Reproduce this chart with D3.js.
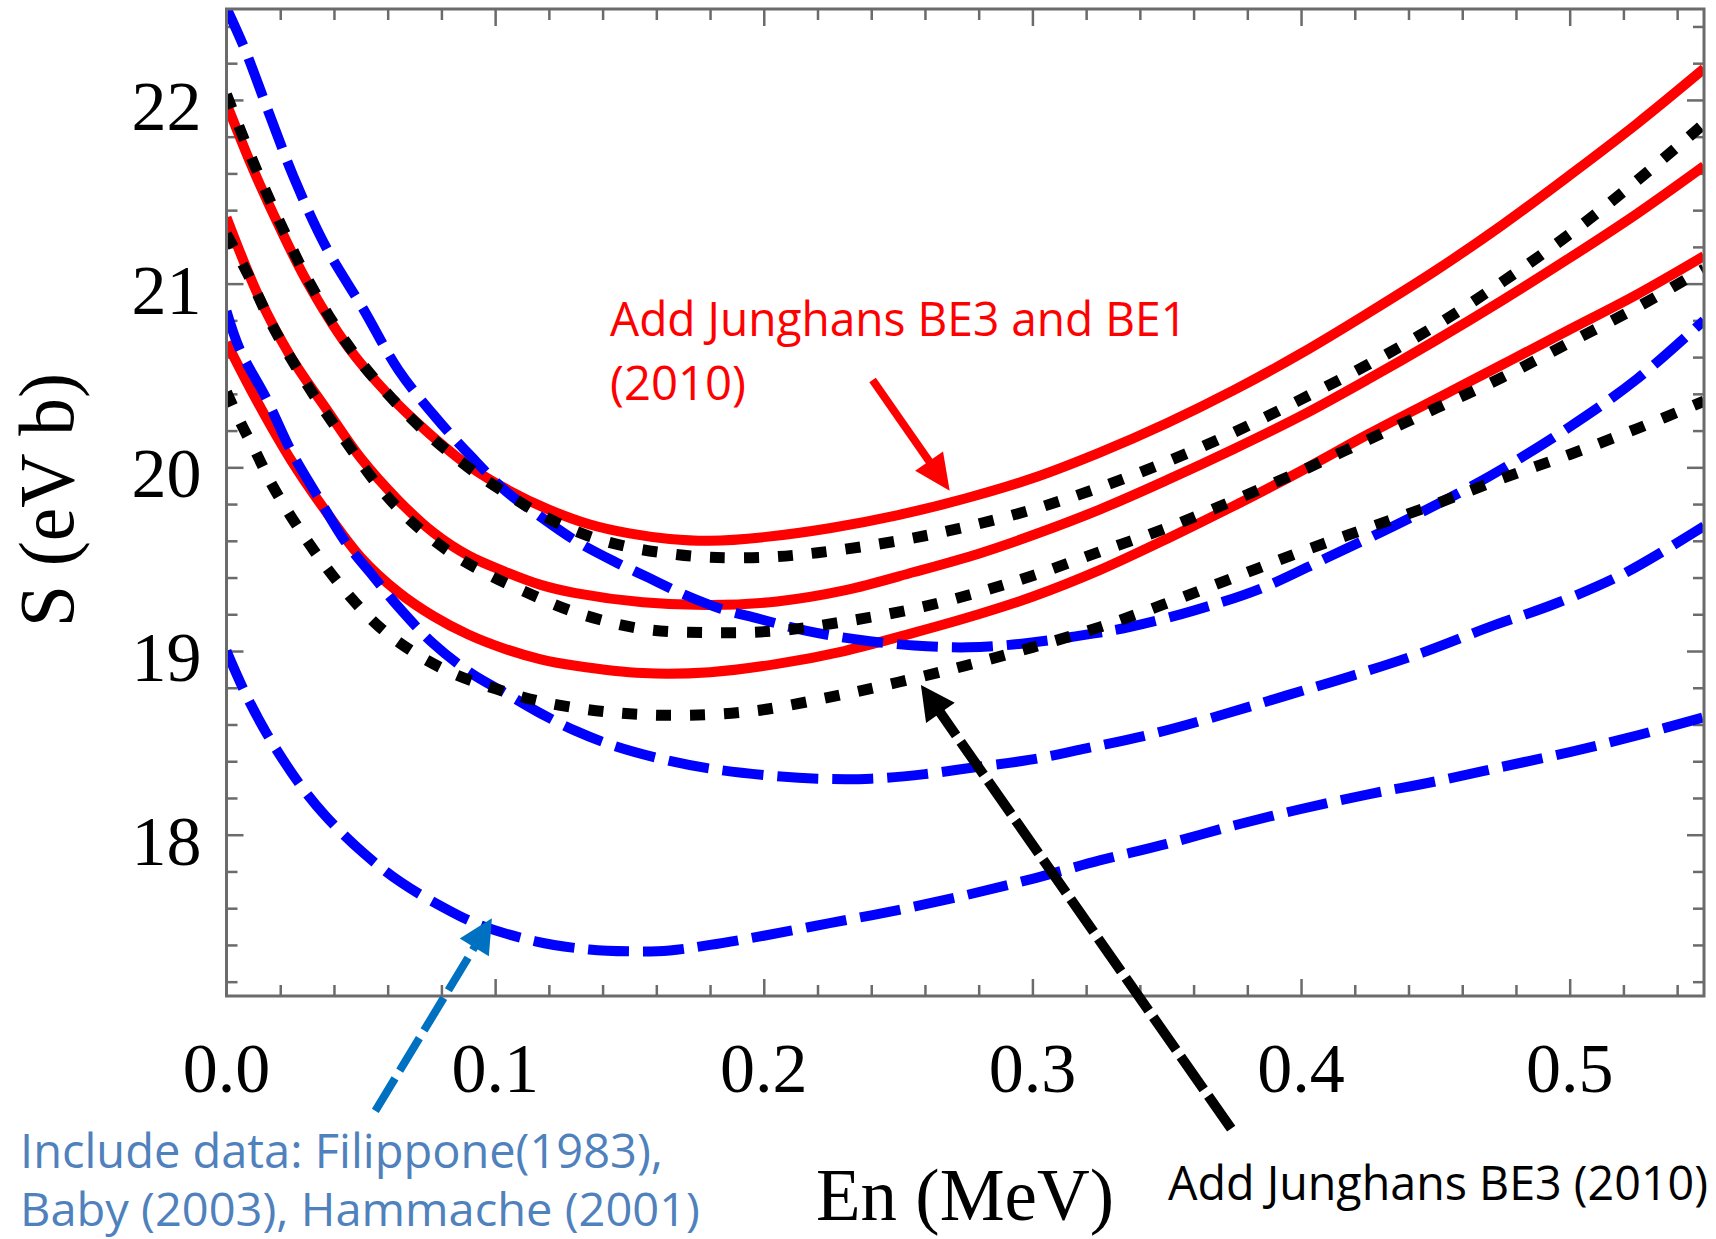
<!DOCTYPE html>
<html><head><meta charset="utf-8">
<script src="https://cdn.jsdelivr.net/npm/d3@7"></script>
<style>html,body{margin:0;padding:0;background:#fff;} svg{display:block;}</style>
</head><body>
<svg id="chart" width="1716" height="1239"></svg>
<script>
// ---------- data ----------
const xTickLabels = [0, 0.1, 0.2, 0.3, 0.4, 0.5];
const yTickLabels = [18, 19, 20, 21, 22];

// red solid curves (Add Junghans BE3 and BE1)
const redUpper = [[0,21.98],[0.01,21.62],[0.02,21.30],[0.03,21.01],[0.045,20.66],[0.06,20.40],[0.075,20.19],[0.09,20.01],[0.105,19.875],[0.12,19.77],[0.135,19.69],[0.15,19.64],[0.165,19.61],[0.18,19.60],[0.20,19.62],[0.225,19.67],[0.25,19.74],[0.275,19.83],[0.30,19.94],[0.325,20.08],[0.35,20.24],[0.375,20.42],[0.40,20.62],[0.425,20.84],[0.45,21.07],[0.475,21.32],[0.50,21.59],[0.525,21.87],[0.55,22.17]];
const redMiddle = [[0,21.36],[0.012,20.93],[0.024,20.6],[0.0375,20.31],[0.05,20.05],[0.064,19.82],[0.077,19.645],[0.09,19.52],[0.104,19.43],[0.117,19.36],[0.13,19.315],[0.155,19.265],[0.18,19.25],[0.205,19.27],[0.23,19.33],[0.256,19.43],[0.28,19.53],[0.30,19.63],[0.325,19.77],[0.35,19.93],[0.375,20.10],[0.40,20.28],[0.425,20.48],[0.45,20.69],[0.475,20.91],[0.50,21.14],[0.525,21.38],[0.55,21.64]];
const redLower = [[0,20.68],[0.011,20.37],[0.024,20.04],[0.0375,19.75],[0.05,19.51],[0.064,19.32],[0.077,19.19],[0.09,19.09],[0.104,19.01],[0.117,18.955],[0.13,18.92],[0.155,18.88],[0.18,18.885],[0.205,18.93],[0.23,19.0],[0.256,19.10],[0.28,19.20],[0.30,19.295],[0.325,19.44],[0.35,19.61],[0.375,19.79],[0.40,19.98],[0.425,20.18],[0.45,20.37],[0.475,20.56],[0.50,20.75],[0.525,20.94],[0.55,21.15]];

// black dotted curves (Add Junghans BE3)
const blackUpper = [[0,22.03],[0.01,21.66],[0.02,21.33],[0.03,21.03],[0.045,20.67],[0.06,20.40],[0.075,20.18],[0.09,20.0],[0.105,19.85],[0.12,19.72],[0.135,19.625],[0.15,19.565],[0.165,19.53],[0.18,19.51],[0.20,19.51],[0.22,19.535],[0.25,19.60],[0.275,19.675],[0.30,19.77],[0.325,19.89],[0.35,20.03],[0.375,20.19],[0.40,20.37],[0.425,20.56],[0.45,20.77],[0.475,21.01],[0.50,21.27],[0.525,21.56],[0.55,21.87]];
const blackMiddle = [[0,21.27],[0.008,21.05],[0.0175,20.76],[0.03,20.45],[0.044,20.15],[0.057,19.89],[0.07,19.69],[0.084,19.53],[0.097,19.42],[0.11,19.33],[0.13,19.21],[0.155,19.12],[0.18,19.10],[0.205,19.11],[0.23,19.16],[0.256,19.23],[0.28,19.32],[0.30,19.41],[0.325,19.54],[0.35,19.67],[0.375,19.82],[0.40,19.98],[0.425,20.15],[0.45,20.32],[0.475,20.49],[0.50,20.68],[0.525,20.87],[0.55,21.08]];
const blackLower = [[0,20.41],[0.005,20.25],[0.011,20.08],[0.0175,19.89],[0.03,19.60],[0.044,19.33],[0.057,19.13],[0.07,18.99],[0.084,18.88],[0.099,18.80],[0.117,18.725],[0.144,18.665],[0.17,18.65],[0.197,18.675],[0.225,18.75],[0.25,18.83],[0.275,18.92],[0.30,19.02],[0.325,19.13],[0.35,19.26],[0.375,19.40],[0.40,19.54],[0.425,19.67],[0.45,19.80],[0.475,19.94],[0.50,20.07],[0.525,20.21],[0.55,20.36]];

// blue dashed curves (Filippone, Baby, Hammache data)
const blueUpper = [[0,22.5],[0.007,22.27],[0.015,21.96],[0.025,21.58],[0.037,21.2],[0.051,20.86],[0.064,20.53],[0.078,20.27],[0.091,20.06],[0.104,19.87],[0.117,19.73],[0.13,19.60],[0.144,19.49],[0.157,19.40],[0.17,19.31],[0.184,19.23],[0.197,19.18],[0.216,19.11],[0.236,19.06],[0.256,19.03],[0.276,19.02],[0.296,19.04],[0.316,19.08],[0.336,19.13],[0.36,19.22],[0.385,19.34],[0.41,19.51],[0.44,19.72],[0.47,19.95],[0.50,20.22],[0.525,20.48],[0.55,20.80]];
const blueMiddle = [[0,20.85],[0.005,20.64],[0.015,20.37],[0.024,20.09],[0.034,19.84],[0.044,19.60],[0.055,19.40],[0.064,19.24],[0.077,19.04],[0.091,18.88],[0.104,18.77],[0.117,18.66],[0.13,18.565],[0.144,18.485],[0.164,18.405],[0.18,18.36],[0.20,18.325],[0.22,18.305],[0.24,18.305],[0.26,18.33],[0.28,18.37],[0.30,18.41],[0.32,18.47],[0.345,18.55],[0.37,18.65],[0.395,18.76],[0.42,18.87],[0.445,18.99],[0.47,19.13],[0.495,19.26],[0.52,19.42],[0.55,19.68]];
const blueLower = [[0,19.0],[0.007,18.77],[0.015,18.55],[0.027,18.28],[0.037,18.10],[0.051,17.90],[0.065,17.74],[0.08,17.61],[0.094,17.51],[0.115,17.42],[0.135,17.375],[0.15,17.365],[0.165,17.37],[0.18,17.40],[0.20,17.45],[0.225,17.52],[0.25,17.59],[0.275,17.67],[0.30,17.76],[0.325,17.86],[0.35,17.95],[0.375,18.05],[0.40,18.14],[0.425,18.22],[0.45,18.29],[0.475,18.37],[0.50,18.45],[0.525,18.54],[0.55,18.64]];

// annotation arrows, in data coordinates: [tailX, tailY, tipX, tipY]
const redArrow = [0.2405, 20.475, 0.2692, 19.873];
const blackArrow = [0.374, 16.40, 0.2585, 18.815];
const blueArrow = [0.0554, 16.497, 0.0988, 17.545];

// ---------- chart ----------
const W = 1716, H = 1239;
const margin = {left: 226.5, right: 12, top: 9, bottom: 243};
const svg = d3.select("#chart");
svg.append("rect").attr("width", W).attr("height", H).attr("fill", "#fff");

const x = d3.scaleLinear().domain([0, 0.55]).range([margin.left, W - margin.right]);
const y = d3.scaleLinear().domain([17.122, 22.495]).range([H - margin.bottom, margin.top]);

const axisColor = "#6b6b6b";
const serif = "'Liberation Serif', 'Times New Roman', serif";
const sans = "'Open Sans', 'Noto Sans', sans-serif";

// clip
svg.append("defs").append("clipPath").attr("id", "plotclip")
  .append("rect").attr("x", x(0)).attr("y", y(22.495))
  .attr("width", x(0.55) - x(0)).attr("height", y(17.122) - y(22.495));

// ticks
const yMinor = d3.range(17.2, 22.45, 0.2).filter(v => Math.abs(v - Math.round(v)) > 1e-6);
const xMinor = d3.range(0.02, 0.545, 0.02).filter(v => Math.abs(v * 10 - Math.round(v * 10)) > 1e-6);

function tickGroup(axisGen, transform, values, size) {
  svg.append("g").attr("transform", transform)
    .call(axisGen.tickValues(values).tickSize(size).tickFormat(""))
    .call(g => g.select(".domain").remove())
    .call(g => g.selectAll("line").attr("stroke", axisColor).attr("stroke-width", 2.5));
}
tickGroup(d3.axisLeft(y), `translate(${x(0)},0)`, yTickLabels, -17);
tickGroup(d3.axisLeft(y), `translate(${x(0)},0)`, yMinor, -11);
tickGroup(d3.axisRight(y), `translate(${x(0.55)},0)`, yTickLabels, -17);
tickGroup(d3.axisRight(y), `translate(${x(0.55)},0)`, yMinor, -11);
tickGroup(d3.axisBottom(x), `translate(0,${y(17.122)})`, xTickLabels.slice(1), -17);
tickGroup(d3.axisBottom(x), `translate(0,${y(17.122)})`, xMinor, -11);
tickGroup(d3.axisTop(x), `translate(0,${y(22.495)})`, xTickLabels.slice(1), -17);
tickGroup(d3.axisTop(x), `translate(0,${y(22.495)})`, xMinor, -11);

// curves
const line = d3.line().x(d => x(d[0])).y(d => y(d[1])).curve(d3.curveCatmullRom.alpha(0.5));
const plot = svg.append("g").attr("clip-path", "url(#plotclip)");

[redUpper, redMiddle, redLower].forEach(s => plot.append("path").attr("d", line(s))
  .attr("fill", "none").attr("stroke", "#ff0000").attr("stroke-width", 10));
[blueUpper, blueMiddle, blueLower].forEach(s => plot.append("path").attr("d", line(s))
  .attr("fill", "none").attr("stroke", "#0000ff").attr("stroke-width", 10)
  .attr("stroke-dasharray", "41,14"));
[blackUpper, blackMiddle, blackLower].forEach(s => plot.append("path").attr("d", line(s))
  .attr("fill", "none").attr("stroke", "#000").attr("stroke-width", 11)
  .attr("stroke-dasharray", "15,19"));

// frame
svg.append("rect").attr("x", x(0)).attr("y", y(22.495))
  .attr("width", x(0.55) - x(0)).attr("height", y(17.122) - y(22.495))
  .attr("fill", "none").attr("stroke", axisColor).attr("stroke-width", 3);

// tick labels
svg.append("g").selectAll("text").data(xTickLabels).join("text")
  .attr("x", d => x(d)).attr("y", y(17.122) + 96)
  .attr("text-anchor", "middle").attr("font-family", serif).attr("font-size", 70)
  .attr("fill", "#000").text(d3.format(".1f"));
svg.append("g").selectAll("text").data(yTickLabels).join("text")
  .attr("x", x(0) - 25).attr("y", d => y(d) + 30)
  .attr("text-anchor", "end").attr("font-family", serif).attr("font-size", 70)
  .attr("fill", "#000").text(d => d);

// axis titles
svg.append("text").attr("x", 965).attr("y", 1220).attr("text-anchor", "middle")
  .attr("font-family", serif).attr("font-size", 74).attr("textLength", 298)
  .attr("lengthAdjust", "spacingAndGlyphs").attr("fill", "#000").text("En (MeV)");
svg.append("text").attr("transform", "translate(73,500) rotate(-90)").attr("text-anchor", "middle")
  .attr("font-family", serif).attr("font-size", 78).attr("textLength", 254)
  .attr("lengthAdjust", "spacingAndGlyphs").attr("fill", "#000").text("S (eV b)");

// arrows
function arrow(a, color, width, dash, headLen, headHalf) {
  const tx = x(a[0]), ty = y(a[1]), px = x(a[2]), py = y(a[3]);
  const dx = px - tx, dy = py - ty, L = Math.hypot(dx, dy);
  const ux = dx / L, uy = dy / L, nx = -uy, ny = ux;
  const bx = px - ux * headLen, by = py - uy * headLen;
  const g = svg.append("g");
  g.append("line").attr("x1", tx).attr("y1", ty).attr("x2", bx + ux * 2).attr("y2", by + uy * 2)
    .attr("stroke", color).attr("stroke-width", width)
    .attr("stroke-dasharray", dash || null);
  g.append("path")
    .attr("d", `M${px},${py}L${bx + nx * headHalf},${by + ny * headHalf}L${bx - nx * headHalf},${by - ny * headHalf}Z`)
    .attr("fill", color);
}
arrow(redArrow, "#ff0000", 8, null, 36, 17);
arrow(blackArrow, "#000", 10, "40,8", 34, 17.5);
arrow(blueArrow, "#0070c0", 8, "38,9", 34, 17);

// annotation text
function note(txt, px, py, len, color, size) {
  svg.append("text").attr("x", px).attr("y", py).attr("font-family", sans).attr("font-size", size || 47)
    .attr("textLength", len).attr("lengthAdjust", "spacingAndGlyphs").attr("fill", color).text(txt);
}
note("Add Junghans BE3 and BE1", 610, 336, 577, "#ff0000");
note("(2010)", 610, 400, 136, "#ff0000");
note("Include data: Filippone(1983),", 20, 1168, 643, "#4f81bd");
note("Baby (2003), Hammache (2001)", 20, 1226, 680, "#4f81bd", 46);
note("Add Junghans BE3 (2010)", 1168, 1200, 540, "#000");
</script>
</body></html>
